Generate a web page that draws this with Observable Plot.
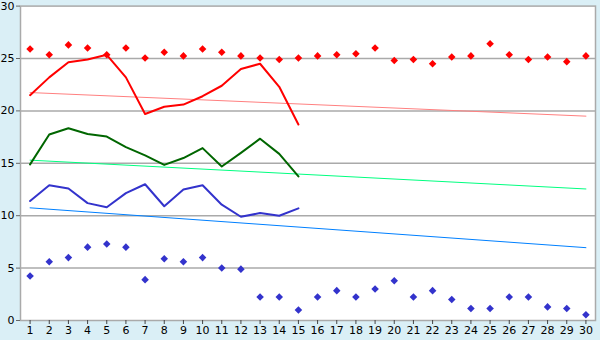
<!DOCTYPE html>
<html><head><meta charset="utf-8">
<script src="https://cdn.jsdelivr.net/npm/d3@7"></script>
<script src="https://cdn.jsdelivr.net/npm/@observablehq/plot@0.6"></script>
<style>body{margin:0;background:#daeff6;} svg{display:block;}</style>
</head><body><div id="chart"></div>
<script>
const days = d3.range(1, 31);
const yTicks = [0, 5, 10, 15, 20, 25, 30];
const redPoints = [25.9,25.35,26.3,26.0,25.35,26.0,25.05,25.6,25.25,25.9,25.6,25.25,25.05,24.9,25.05,25.25,25.35,25.45,26.0,24.8,24.9,24.5,25.15,25.25,26.4,25.35,24.9,25.15,24.7,25.25];
const bluePoints = [4.25,5.6,6.0,7.0,7.3,7.0,3.9,5.9,5.6,6.0,5.0,4.9,2.25,2.25,1.0,2.25,2.85,2.25,3.0,3.8,2.25,2.85,2.0,1.15,1.15,2.25,2.25,1.3,1.15,0.55];
const redLine = [21.5,23.2,24.65,24.9,25.35,23.2,19.7,20.4,20.6,21.4,22.4,24.0,24.5,22.3,18.7];
const greenLine = [14.9,17.75,18.35,17.8,17.55,16.55,15.75,14.85,15.5,16.45,14.7,16.0,17.35,15.9,13.75];
const blueLine = [11.4,12.9,12.6,11.2,10.8,12.15,13.0,10.9,12.5,12.9,11.05,9.9,10.25,10.0,10.7];
const redTrend = [21.75, 19.5];
const greenTrend = [15.3, 12.55];
const blueTrend = [10.75, 6.95];
const trendDays = [1, 30];

const pts = (arr) => arr.map((v, i) => ({x: i + 1, y: v}));
const trend = (arr) => arr.map((v, i) => ({x: trendDays[i], y: v}));

const chart = Plot.plot({
  width: 600, height: 340,
  marginLeft: 20, marginRight: 5, marginTop: 5.6, marginBottom: 20,
  style: {background: "#daeff6", fontFamily: "DejaVu Sans", fontSize: "11px", color: "#000"},
  x: {domain: [0.5, 30.5], axis: null},
  y: {domain: [0, 30], axis: null},
  marks: [
    Plot.frame({fill: "white", stroke: "#aaaaaa", strokeWidth: 1.5}),
    Plot.ruleY([5, 10, 15, 20, 25], {stroke: "#aaaaaa", strokeWidth: 1.5}),
    Plot.axisY(yTicks, {tickSize: 4, tickPadding: 2, stroke: "#666", fontSize: 11, label: null}),
    Plot.axisX(days, {tickSize: 4, tickPadding: 2, stroke: "#444", fontSize: 11, label: null}),
    Plot.line(trend(redTrend), {x: "x", y: "y", stroke: "#ff8080", strokeWidth: 1}),
    Plot.line(trend(greenTrend), {x: "x", y: "y", stroke: "#00ff80", strokeWidth: 1}),
    Plot.line(trend(blueTrend), {x: "x", y: "y", stroke: "#0080ff", strokeWidth: 1}),
    Plot.line(pts(redLine), {x: "x", y: "y", stroke: "#ff0000", strokeWidth: 2}),
    Plot.line(pts(greenLine), {x: "x", y: "y", stroke: "#006600", strokeWidth: 2}),
    Plot.line(pts(blueLine), {x: "x", y: "y", stroke: "#3333cc", strokeWidth: 2}),
    Plot.dot(pts(redPoints), {x: "x", y: "y", symbol: "diamond2", r: 3.4, fill: "#ff0000", stroke: "none"}),
    Plot.dot(pts(bluePoints), {x: "x", y: "y", symbol: "diamond2", r: 3.4, fill: "#3333cc", stroke: "none"})
  ]
});
document.getElementById("chart").appendChild(chart);
</script></body></html>
